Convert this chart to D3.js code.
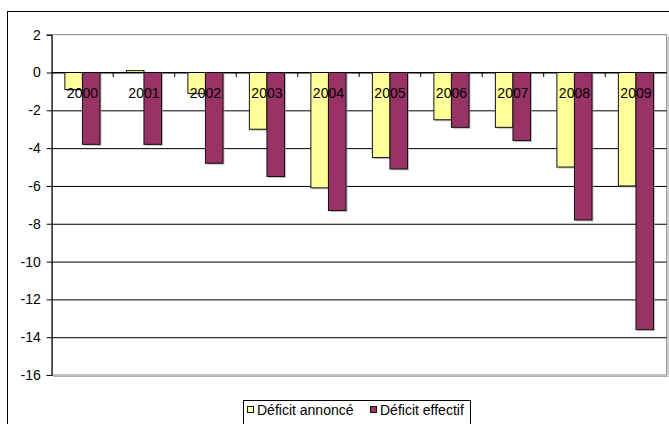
<!DOCTYPE html>
<html>
<head>
<meta charset="utf-8">
<script src="https://cdn.jsdelivr.net/npm/d3@7"></script>
<style>
  html, body { margin: 0; padding: 0; background: #fff; }
  svg { display: block; font-family: "Liberation Sans", Arial, sans-serif; }
</style>
</head>
<body>
<svg id="chart" width="669" height="424"></svg>
<script>
// Budget deficit, announced vs. actual, 2000–2009
const categories = ["2000", "2001", "2002", "2003", "2004", "2005", "2006", "2007", "2008", "2009"];
const deficitAnnonce = [-0.9, 0.1, -1.1, -3.0, -6.1, -4.5, -2.5, -2.9, -5.0, -6.0];
const deficitEffectif = [-3.8, -3.8, -4.8, -5.5, -7.3, -5.1, -2.9, -3.6, -7.8, -13.6];
const seriesNames = ["Déficit annoncé", "Déficit effectif"];
const seriesColors = ["#FFFF99", "#993366"];
const yTickValues = [2, 0, -2, -4, -6, -8, -10, -12, -14, -16];

const FONT = "'Liberation Sans', Arial, sans-serif";
const FONT_SIZE = "14px";

const svg = d3.select("#chart");

// Chart frame
svg.append("rect")
  .attr("x", 7.5).attr("y", 11.5)
  .attr("width", 700).attr("height", 500)
  .attr("fill", "#fff").attr("stroke", "#000").attr("stroke-width", 1);

const plot = { left: 51.7, right: 666.7, top: 34.7, bottom: 375 };

const y = d3.scaleLinear().domain([-16, 2]).range([plot.bottom, plot.top]);
const x0 = d3.scaleBand().domain(categories).range([plot.left, plot.right]).paddingInner(0).paddingOuter(0);
const x1 = d3.scaleBand().domain([0, 1]).range([0, x0.bandwidth()]).paddingInner(0).paddingOuter(0.75);

// Plot area with a soft shadow
svg.append("path")
  .attr("d", `M${plot.right + 1.5},${plot.top + 2} V${plot.bottom + 1.5} H${plot.left + 2}`)
  .attr("fill", "none").attr("stroke", "#b0b0b0").attr("stroke-width", 1);
svg.append("rect")
  .attr("x", plot.left).attr("y", plot.top)
  .attr("width", plot.right - plot.left).attr("height", plot.bottom - plot.top)
  .attr("fill", "#fff").attr("stroke", "#808080").attr("stroke-width", 1);

// Horizontal gridlines
svg.append("g")
  .attr("transform", `translate(${plot.left},0)`)
  .call(d3.axisLeft(y).tickValues(yTickValues.filter(v => v !== 2 && v !== -16))
    .tickSize(-(plot.right - plot.left)).tickFormat(""))
  .call(g => g.select(".domain").remove())
  .call(g => g.selectAll("line").attr("stroke", "#000"));

// Bars
const rows = categories.map((c, i) => ({ c, values: [deficitAnnonce[i], deficitEffectif[i]] }));
const groups = svg.append("g").selectAll("g")
  .data(rows).join("g")
  .attr("transform", d => `translate(${x0(d.c)},0)`);

groups.selectAll("rect.shadow")
  .data(d => d.values.map((v, k) => ({ v, k })))
  .join("rect").attr("class", "shadow")
  .attr("x", d => x1(d.k) + 1.5)
  .attr("y", d => Math.min(y(d.v), y(0)) + 1.5)
  .attr("width", x1.bandwidth())
  .attr("height", d => Math.abs(y(d.v) - y(0)))
  .attr("fill", "#9a9a9a").attr("opacity", 0.6);

groups.selectAll("rect.bar")
  .data(d => d.values.map((v, k) => ({ v, k })))
  .join("rect").attr("class", "bar")
  .attr("x", d => x1(d.k))
  .attr("y", d => Math.min(y(d.v), y(0)))
  .attr("width", x1.bandwidth())
  .attr("height", d => Math.abs(y(d.v) - y(0)))
  .attr("fill", d => seriesColors[d.k])
  .attr("stroke", "#111").attr("stroke-width", 1);

// Value axis
svg.append("g")
  .attr("transform", `translate(${plot.left},0)`)
  .call(d3.axisLeft(y).tickValues(yTickValues).tickSize(5).tickPadding(6).tickFormat(d => String(d)))
  .call(g => g.select(".domain").attr("stroke", "#000"))
  .call(g => g.selectAll("line").attr("stroke", "#000"))
  .call(g => g.selectAll("text").attr("fill", "#000").attr("font-size", FONT_SIZE)
    .attr("font-family", FONT));

// Category axis along zero, tick marks between categories
const y0 = y(0);
svg.append("line")
  .attr("x1", plot.left).attr("x2", plot.right)
  .attr("y1", y0).attr("y2", y0)
  .attr("stroke", "#000");
const boundaries = categories.map(c => x0(c)).slice(1);
svg.append("g").selectAll("line")
  .data(boundaries).join("line")
  .attr("x1", d => d).attr("x2", d => d)
  .attr("y1", y0).attr("y2", y0 + 4.5)
  .attr("stroke", "#000");

svg.append("g")
  .attr("transform", `translate(0,${y0})`)
  .call(d3.axisBottom(x0).tickSize(0).tickPadding(15.5))
  .call(g => g.select(".domain").remove())
  .call(g => g.selectAll("text").attr("fill", "#000").attr("font-size", FONT_SIZE)
    .attr("font-family", FONT));

// Legend
const legend = svg.append("g");
legend.append("rect")
  .attr("x", 243.5).attr("y", 400.5).attr("width", 227).attr("height", 30)
  .attr("fill", "#fff").attr("stroke", "#000").attr("stroke-width", 1);
const legendX = [247, 370];
legendX.forEach((lx, k) => {
  legend.append("rect")
    .attr("x", lx + 0.5).attr("y", 406.5).attr("width", 6).attr("height", 6)
    .attr("fill", seriesColors[k]).attr("stroke", "#111");
  legend.append("text")
    .attr("x", lx + 10).attr("y", 414.5)
    .attr("font-size", FONT_SIZE).attr("font-family", FONT).attr("fill", "#000")
    .text(seriesNames[k]);
});
</script>
</body>
</html>
